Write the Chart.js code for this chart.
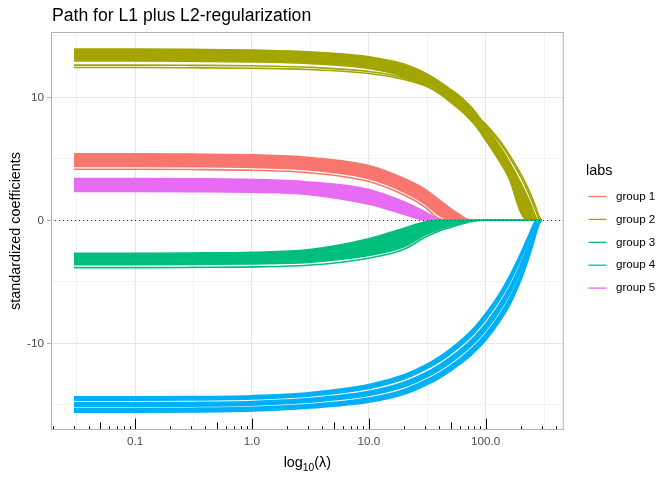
<!DOCTYPE html>
<html>
<head>
<meta charset="utf-8">
<script src="https://cdn.jsdelivr.net/npm/chart.js@4.4.0/dist/chart.umd.min.js"></script>
<style>
  html, body { margin: 0; padding: 0; background: #ffffff; }
</style>
</head>
<body>
<canvas id="pathChart" width="672" height="480"></canvas>
<script>
// Lambda values along the path (x axis, log scale)
const lambdas = [0.03, 0.1, 0.3, 1, 3, 10, 20, 30, 40, 50, 60, 70, 80, 100, 130, 160, 200, 230, 250, 270, 285, 300];

// Edges of the dense bundles of coefficient paths, plus a few paths that stand apart
const group1Upper = [5.40, 5.40, 5.38, 5.32, 5.12, 4.45, 3.40, 2.55, 1.65, 0.95, 0.45, 0.08, 0, 0, 0, 0, 0, 0, 0, 0, 0, 0];
const group1Lower = [4.38, 4.38, 4.36, 4.30, 4.11, 3.38, 2.30, 1.35, 0.40, 0.03, 0, 0, 0, 0, 0, 0, 0, 0, 0, 0, 0, 0];
const group1Path = [4.15, 4.15, 4.13, 4.07, 3.88, 3.15, 2.05, 1.10, 0.12, 0, 0, 0, 0, 0, 0, 0, 0, 0, 0, 0, 0, 0];

const group2Upper = [13.92, 13.92, 13.90, 13.85, 13.70, 13.30, 12.70, 12.00, 11.30, 10.65, 10.10, 9.50, 8.90, 7.60, 6.10, 4.70, 3.00, 1.80, 1.00, 0.20, 0, 0];
const group2Lower = [12.95, 12.95, 12.93, 12.88, 12.75, 12.35, 11.70, 11.00, 10.30, 9.60, 9.00, 8.40, 7.80, 6.50, 4.85, 3.30, 0.60, 0, 0, 0, 0, 0];
const group2PathA = [12.62, 12.62, 12.60, 12.56, 12.45, 12.10, 11.60, 11.05, 10.50, 10.00, 9.55, 9.10, 8.65, 7.70, 6.40, 5.10, 3.50, 2.30, 1.50, 0.70, 0.15, 0];
const group2PathB = [12.42, 12.42, 12.40, 12.36, 12.26, 11.94, 11.46, 10.96, 10.45, 9.98, 9.55, 9.12, 8.70, 7.80, 6.55, 5.30, 3.75, 2.60, 1.80, 1.00, 0.35, 0];

const group3Upper = [-2.68, -2.68, -2.66, -2.60, -2.40, -1.50, -0.65, -0.15, 0, 0, 0, 0, 0, 0, 0, 0, 0, 0, 0, 0, 0, 0];
const group3Lower = [-3.60, -3.60, -3.58, -3.54, -3.42, -2.86, -2.15, -1.22, -0.72, -0.46, -0.25, -0.11, -0.02, 0, 0, 0, 0, 0, 0, 0, 0, 0];
const group3Path = [-3.85, -3.85, -3.83, -3.79, -3.66, -3.08, -2.36, -1.40, -0.87, -0.58, -0.34, -0.17, -0.05, 0, 0, 0, 0, 0, 0, 0, 0, 0];

const group4UpperA = [-14.35, -14.35, -14.33, -14.26, -14.02, -13.35, -12.55, -11.80, -11.10, -10.45, -9.85, -9.27, -8.72, -7.58, -6.03, -4.54, -2.65, -1.35, -0.55, 0, 0, 0];
const group4LowerA = [-14.63, -14.63, -14.61, -14.53, -14.30, -13.67, -12.90, -12.16, -11.49, -10.85, -10.26, -9.70, -9.16, -8.06, -6.53, -5.06, -3.13, -1.77, -0.90, -0.23, -0.08, 0];
const group4UpperB = [-14.83, -14.83, -14.81, -14.73, -14.50, -13.90, -13.16, -12.43, -11.77, -11.13, -10.55, -10.00, -9.47, -8.41, -6.89, -5.44, -3.49, -2.07, -1.16, -0.40, -0.13, 0];
const group4LowerB = [-15.13, -15.13, -15.11, -15.03, -14.80, -14.25, -13.54, -12.82, -12.19, -11.57, -11.00, -10.47, -9.95, -8.93, -7.44, -6.00, -4.01, -2.53, -1.54, -0.65, -0.22, 0];
const group4UpperC = [-15.30, -15.30, -15.28, -15.20, -14.98, -14.45, -13.77, -13.05, -12.43, -11.82, -11.26, -10.74, -10.23, -9.23, -7.76, -6.33, -4.32, -2.79, -1.77, -0.80, -0.27, 0];
const group4LowerC = [-15.60, -15.60, -15.58, -15.50, -15.28, -14.80, -14.15, -13.45, -12.85, -12.25, -11.70, -11.20, -10.70, -9.75, -8.30, -6.90, -4.85, -3.25, -2.15, -1.05, -0.35, 0];

const group5Upper = [3.40, 3.40, 3.38, 3.32, 3.12, 2.50, 1.50, 0.70, 0.08, 0, 0, 0, 0, 0, 0, 0, 0, 0, 0, 0, 0, 0];
const group5Lower = [2.35, 2.35, 2.33, 2.28, 2.10, 1.30, 0.50, 0.02, 0, 0, 0, 0, 0, 0, 0, 0, 0, 0, 0, 0, 0, 0];

const groupLabels = ['group 1', 'group 2', 'group 3', 'group 4', 'group 5'];
const groupColors = ['#F8766D', '#A3A500', '#00BF7D', '#00B0F6', '#E76BF3'];

// Axis ticks
const xTickValues = [0.1, 1, 10, 100];
const xTickLabels = ['0.1', '1.0', '10.0', '100.0'];
const xMinorValues = [Math.pow(10, -1.5), Math.pow(10, -0.5), Math.pow(10, 0.5), Math.pow(10, 1.5), Math.pow(10, 2.5)];
const yTickValues = [-10, 0, 10];
const yMinorValues = [-15, -5, 5, 15];

const FONT = '"Liberation Sans", Arial, Helvetica, sans-serif';
Chart.defaults.font.family = FONT;

function toPoints(values) {
    return lambdas.map((l, i) => ({ x: l, y: values[i] }));
}

// dataset 0 is drawn on top, so green goes first
const bands = [
    { g: 2, upper: group3Upper, lower: group3Lower, paths: [group3Path] },
    { g: 0, upper: group1Upper, lower: group1Lower, paths: [group1Path] },
    { g: 4, upper: group5Upper, lower: group5Lower, paths: [] },
    { g: 1, upper: group2Upper, lower: group2Lower, paths: [group2PathA, group2PathB] },
    { g: 3, upper: group4UpperA, lower: group4LowerA, paths: [] },
    { g: 3, upper: group4UpperB, lower: group4LowerB, paths: [] },
    { g: 3, upper: group4UpperC, lower: group4LowerC, paths: [] }
];

const datasets = [];
bands.forEach(b => {
    const col = groupColors[b.g];
    datasets.push({
        label: groupLabels[b.g],
        data: toPoints(b.upper),
        borderColor: col,
        backgroundColor: col,
        fill: datasets.length + 1
    });
    datasets.push({
        label: groupLabels[b.g],
        data: toPoints(b.lower),
        borderColor: col,
        backgroundColor: col,
        fill: false
    });
    b.paths.forEach(p => {
        datasets.push({
            label: groupLabels[b.g],
            data: toPoints(p),
            borderColor: col,
            backgroundColor: col,
            fill: false
        });
    });
});

const decorations = {
    id: 'decorations',
    beforeDraw(chart) {
        const c = chart.ctx;
        c.save();
        c.fillStyle = '#ffffff';
        c.fillRect(0, 0, chart.width, chart.height);
        c.restore();
    },
    afterDatasetsDraw(chart) {
        const c = chart.ctx;
        const a = chart.chartArea;
        const xs = chart.scales.x;
        const ys = chart.scales.y;
        c.save();

        // dotted reference line at zero
        const y0 = Math.round(ys.getPixelForValue(0)) + 0.5;
        c.strokeStyle = '#333333';
        c.lineWidth = 1;
        c.setLineDash([1, 3]);
        c.beginPath();
        c.moveTo(a.left, y0);
        c.lineTo(a.right, y0);
        c.stroke();
        c.setLineDash([]);

        // log ticks along the bottom of the panel
        c.strokeStyle = '#000000';
        c.lineWidth = 1;
        for (let e = -2; e <= 2; e++) {
            for (let m = 1; m <= 9; m++) {
                const v = m * Math.pow(10, e);
                if (v < xs.min || v > xs.max) continue;
                const px = Math.round(xs.getPixelForValue(v)) + 0.5;
                const len = m === 1 ? 11.3 : (m === 5 ? 7.6 : 3.8);
                c.beginPath();
                c.moveTo(px, a.bottom);
                c.lineTo(px, a.bottom - len);
                c.stroke();
            }
        }

        // panel border
        c.strokeStyle = '#B3B3B3';
        c.lineWidth = 1;
        c.strokeRect(a.left + 0.5, a.top + 0.5, a.right - a.left - 1, a.bottom - a.top - 1);
        c.restore();
    },
    afterDraw(chart) {
        const c = chart.ctx;
        const a = chart.chartArea;
        c.save();
        c.fillStyle = '#000000';

        // title
        c.font = '17.6px ' + FONT;
        c.textAlign = 'left';
        c.textBaseline = 'alphabetic';
        c.fillText('Path for L1 plus L2-regularization', a.left + 1, 20.5);

        // y axis title
        c.save();
        c.translate(19.5, (a.top + a.bottom) / 2);
        c.rotate(-Math.PI / 2);
        c.font = '14.4px ' + FONT;
        c.textAlign = 'center';
        c.fillText('standardized coefficients', 0, 0);
        c.restore();

        // x axis title with subscript
        const big = '14.4px ' + FONT;
        const small = '10.3px ' + FONT;
        c.font = big;
        const w1 = c.measureText('log').width;
        const w3 = c.measureText('(\u03BB)').width;
        c.font = small;
        const w2 = c.measureText('10').width;
        let x = (a.left + a.right) / 2 - (w1 + w2 + w3) / 2;
        const base = 467;
        c.textAlign = 'left';
        c.font = big;
        c.fillText('log', x, base);
        x += w1;
        c.font = small;
        c.fillText('10', x, base + 3.5);
        x += w2;
        c.font = big;
        c.fillText('(\u03BB)', x, base);

        // legend
        c.font = '14.4px ' + FONT;
        c.textBaseline = 'middle';
        c.fillText('labs', 586, 171);
        c.font = '11.6px ' + FONT;
        groupLabels.forEach((lab, i) => {
            const yy = 196.5 + i * 22.9;
            c.strokeStyle = groupColors[i];
            c.lineWidth = 1.3;
            c.beginPath();
            c.moveTo(588.5, yy);
            c.lineTo(606.5, yy);
            c.stroke();
            c.fillStyle = '#000000';
            c.fillText(lab, 616, yy);
        });
        c.restore();
    }
};

const config = {
    type: 'line',
    data: { datasets: datasets },
    options: {
        responsive: false,
        animation: false,
        layout: { padding: { left: 0, top: 32, right: 108.3, bottom: 0 } },
        elements: {
            line: { borderWidth: 1.6, cubicInterpolationMode: 'monotone', borderCapStyle: 'butt' },
            point: { radius: 0, hoverRadius: 0 }
        },
        plugins: {
            legend: { display: false },
            tooltip: { enabled: false },
            filler: { propagate: false }
        },
        scales: {
            x: {
                type: 'logarithmic',
                min: 0.01911,
                max: 464.5,
                afterBuildTicks: s => {
                    s.ticks = xTickValues.concat(xMinorValues).sort((p, q) => p - q).map(v => ({ value: v }));
                },
                afterFit: s => { s.height = 50; },
                border: { display: false },
                grid: {
                    color: ctx => xTickValues.includes(ctx.tick.value) ? '#E6E6E6' : '#F3F3F3',
                    lineWidth: 1,
                    drawTicks: false,
                    tickLength: 0
                },
                ticks: {
                    autoSkip: false,
                    maxRotation: 0,
                    padding: 5,
                    color: '#4D4D4D',
                    font: { size: 11.7 },
                    callback: v => {
                        const i = xTickValues.indexOf(v);
                        return i >= 0 ? xTickLabels[i] : '';
                    }
                }
            },
            y: {
                type: 'linear',
                min: -17.05,
                max: 15.31,
                afterBuildTicks: s => {
                    s.ticks = yTickValues.concat(yMinorValues).sort((p, q) => p - q).map(v => ({ value: v }));
                },
                afterFit: s => { s.width = 51; },
                border: { display: false },
                grid: {
                    color: ctx => yTickValues.includes(ctx.tick.value) ? '#E6E6E6' : '#F3F3F3',
                    lineWidth: 1,
                    tickLength: 4,
                    tickColor: ctx => yTickValues.includes(ctx.tick.value) ? '#B3B3B3' : 'rgba(0,0,0,0)'
                },
                ticks: {
                    autoSkip: false,
                    padding: 3,
                    color: '#4D4D4D',
                    font: { size: 11.7 },
                    callback: v => yTickValues.includes(v) ? String(v) : ''
                }
            }
        }
    },
    plugins: [decorations]
};

const pathChart = new Chart(document.getElementById('pathChart'), config);
</script>
</body>
</html>
